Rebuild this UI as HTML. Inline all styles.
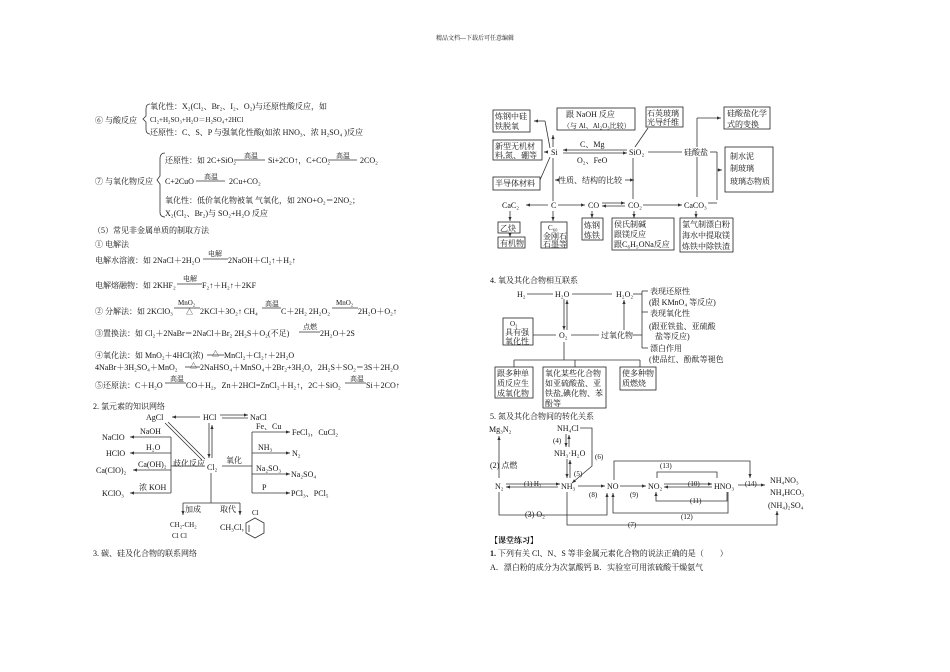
<!DOCTYPE html>
<html><head><meta charset="utf-8"><style>
html,body{margin:0;padding:0;background:#fff}
svg{display:block}
text{font-family:"Liberation Serif","Noto Serif CJK SC",serif;font-size:8px;fill:#111}
.s{font-size:7px}
.l{stroke:#333;stroke-width:0.8;fill:none}
.b{stroke:#222;stroke-width:0.8;fill:none}
</style></head><body>
<svg width="950" height="672" viewBox="0 0 950 672" xmlns="http://www.w3.org/2000/svg">
<defs><marker id="a" markerWidth="6" markerHeight="6" refX="5" refY="3" orient="auto"><path d="M0,1 L5,3 L0,5 z" fill="#333"/></marker></defs>
<text x="475" y="40" text-anchor="middle" style="font-size:6px">精品文档---下载后可任意编辑</text>

<!-- left column -->
<text x="95" y="123">⑥ 与酸反应</text>
<path class="l" d="M150,104 q-4,0 -4,5 v7 l-3,3 l3,3 v7 q0,5 4,5"/>
<text x="150" y="109">氧化性：X₂(Cl₂、Br₂、I₂、O₂)与还原性酸反应，如</text>
<text x="150" y="122" class="s">Cl₂+H₂SO₃+H₂O＝H₂SO₄+2HCl</text>
<text x="150" y="135">还原性：C、S、P 与强氧化性酸(如浓 HNO₃、浓 H₂SO₄ )反应</text>

<text x="95" y="184">⑦ 与氧化物反应</text>
<path class="l" d="M165,153 q-5,0 -5,6 v17 l-3,4 l3,4 v28 q0,5 5,5"/>
<text x="165" y="163">还原性：如 2C+SiO₂</text><text x="244" y="158" class="s">高温</text><line class="l" x1="234" y1="160" x2="265" y2="160"/><text x="268" y="163">Si+2CO↑，C+CO₂</text><text x="336" y="158" class="s">高温</text><line class="l" x1="328" y1="160" x2="357" y2="160"/><text x="360" y="163">2CO₂</text>
<text x="165" y="184">C+2CuO</text><text x="204" y="179" class="s">高温</text><line class="l" x1="196" y1="181" x2="225" y2="181"/><text x="229" y="184">2Cu+CO₂</text>
<text x="165" y="203">氧化性：低价氧化物被氧 气氧化，如 2NO+O₂＝2NO₂；</text>
<text x="165" y="216">X₂(Cl₂、Br₂)与 SO₂+H₂O 反应</text>

<text x="93" y="233">（5）常见非金属单质的制取方法</text>
<text x="95" y="247">① 电解法</text>
<text x="95" y="263">电解水溶液：如 2NaCl＋2H₂O</text><text x="208" y="256" class="s">电解</text><line class="l" x1="203" y1="259" x2="228" y2="259"/><text x="228" y="263">2NaOH＋Cl₂↑＋H₂↑</text>
<text x="95" y="288">电解熔融物：如 2KHF₂</text><text x="183" y="281" class="s">电解</text><line class="l" x1="177" y1="284" x2="202" y2="284"/><text x="202" y="288">F₂↑＋H₂↑＋2KF</text>
<text x="95" y="314">② 分解法：如 2KClO₃</text><text x="178" y="305" class="s">MnO₂</text><line class="l" x1="174" y1="308" x2="200" y2="308"/><text x="186" y="314" class="s">△</text><text x="200" y="314">2KCl＋3O₂↑ CH₄</text><text x="265" y="306" class="s">高温</text><line class="l" x1="262" y1="308" x2="281" y2="308"/><text x="281" y="314">C＋2H₂ 2H₂O₂</text><text x="336" y="305" class="s">MnO₂</text><line class="l" x1="332" y1="308" x2="358" y2="308"/><text x="358" y="314">2H₂O＋O₂↑</text>
<text x="95" y="336">③置换法：如 Cl₂＋2NaBr＝2NaCl＋Br₂ 2H₂S＋O₂(不足)</text><text x="303" y="329" class="s">点燃</text><line class="l" x1="299" y1="332" x2="320" y2="332"/><text x="320" y="336">2H₂O＋2S</text>
<text x="95" y="358">④氧化法：如 MnO₂＋4HCl(浓)</text><text x="212" y="356" class="s">△</text><line class="l" x1="207" y1="355" x2="224" y2="355"/><text x="224" y="358">MnCl₂＋Cl₂↑＋2H₂O</text>
<text x="95" y="370">4NaBr＋3H₂SO₄＋MnO₂</text><text x="190" y="368" class="s">△</text><line class="l" x1="185" y1="367" x2="200" y2="367"/><text x="200" y="370">2NaHSO₄＋MnSO₄＋2Br₂+3H₂O，2H₂S＋SO₂＝3S＋2H₂O</text>
<text x="95" y="388">⑤还原法：C＋H₂O</text><text x="170" y="381" class="s">高温</text><line class="l" x1="165" y1="383" x2="186" y2="383"/><text x="186" y="388">CO＋H₂，Zn＋2HCl=ZnCl₂＋H₂↑，2C＋SiO₂</text><text x="350" y="381" class="s">高温</text><line class="l" x1="345" y1="383" x2="366" y2="383"/><text x="366" y="388">Si＋2CO↑</text>

<text x="93" y="409">2. 氯元素的知识网络</text>
<text x="146" y="420">AgCl</text><text x="203" y="420">HCl</text><text x="250" y="420">NaCl</text>
<line class="l" x1="200" y1="417" x2="172" y2="417" marker-end="url(#a)"/>
<line class="l" x1="220" y1="415" x2="248" y2="415" marker-end="url(#a)"/><line class="l" x1="222" y1="418" x2="248" y2="418"/>
<line class="l" x1="209" y1="423" x2="209" y2="458" marker-end="url(#a)"/><line class="l" x1="212" y1="458" x2="212" y2="425" marker-end="url(#a)"/>
<line class="l" x1="165" y1="423" x2="202" y2="460"/><line class="l" x1="168" y1="422" x2="205" y2="459"/>
<text x="207" y="470">Cl₂</text>
<text x="173" y="466">歧化反应</text>
<line class="l" x1="171" y1="437" x2="171" y2="493"/>
<line class="l" x1="171" y1="437" x2="130" y2="437" marker-end="url(#a)"/><text x="140" y="434">NaOH</text><text x="102" y="440">NaClO</text>
<line class="l" x1="171" y1="453" x2="130" y2="453" marker-end="url(#a)"/><text x="146" y="450">H₂O</text><text x="106" y="456">HClO</text>
<line class="l" x1="171" y1="470" x2="133" y2="470" marker-end="url(#a)"/><text x="138" y="467">Ca(OH)₂</text><text x="96" y="473">Ca(ClO)₂</text>
<line class="l" x1="171" y1="493" x2="130" y2="493" marker-end="url(#a)"/><text x="139" y="490">浓 KOH</text><text x="102" y="496">KClO₃</text>
<line class="l" x1="171" y1="466" x2="205" y2="466"/>
<line class="l" x1="222" y1="466" x2="252" y2="466"/><text x="226" y="463">氧化</text>
<line class="l" x1="252" y1="432" x2="252" y2="493"/>
<line class="l" x1="252" y1="432" x2="290" y2="432" marker-end="url(#a)"/><text x="256" y="429">Fe、Cu</text><text x="292" y="435">FeCl₃，CuCl₂</text>
<line class="l" x1="252" y1="453" x2="290" y2="453" marker-end="url(#a)"/><text x="258" y="450">NH₃</text><text x="292" y="456">N₂</text>
<line class="l" x1="252" y1="474" x2="290" y2="474" marker-end="url(#a)"/><text x="256" y="471">Na₂SO₃</text><text x="291" y="477">Na₂SO₄</text>
<line class="l" x1="252" y1="493" x2="290" y2="493" marker-end="url(#a)"/><text x="262" y="490">P</text><text x="291" y="496">PCl₃、PCl₅</text>
<line class="l" x1="211" y1="473" x2="211" y2="503"/>
<line class="l" x1="183" y1="503" x2="240" y2="503"/>
<line class="l" x1="183" y1="503" x2="183" y2="515" marker-end="url(#a)"/><line class="l" x1="240" y1="503" x2="240" y2="515" marker-end="url(#a)"/>
<text x="185" y="512">加成</text><text x="220" y="512">取代</text>
<text x="170" y="527" class="s">CH₂-CH₂</text><text x="172" y="538" class="s">Cl   Cl</text>
<text x="220" y="530">CH₃Cl，</text>
<text x="252" y="515" class="s">Cl</text>
<polygon class="l" points="255,518 264,523 264,533 255,538 246,533 246,523"/>
<line class="l" x1="249" y1="525" x2="249" y2="532"/>
<text x="93" y="556">3. 碳、硅及化合物的联系网络</text>

<!-- carbon/silicon -->
<rect class="b" x="493" y="110" width="37" height="22"/><text x="495" y="119">炼钢中硅</text><text x="495" y="129">铁脱氧</text>
<rect class="b" x="557" y="108" width="78" height="22"/><text x="566" y="117">跟 NaOH 反应</text><text x="563" y="128" class="s">（与 Al、Al₂O₃比较）</text>
<rect class="b" x="646" y="107" width="37" height="20"/><text x="647" y="116">石英玻璃</text><text x="647" y="125">光导纤维</text>
<rect class="b" x="724" y="107" width="46" height="22"/><text x="727" y="116">硅酸盐化学</text><text x="727" y="127">式的变换</text>
<rect class="b" x="493" y="140" width="49" height="20"/><text x="495" y="149">新型无机材</text><text x="495" y="158">料,氮、硼等</text>
<rect class="b" x="493" y="177" width="47" height="13"/><text x="495" y="186">半导体材料</text>
<text x="551" y="155">Si</text><text x="629" y="155">SiO₂</text><text x="684" y="155">硅酸盐</text>
<rect class="b" x="725" y="147" width="48" height="45"/><text x="730" y="159">制水泥</text><text x="730" y="171">制玻璃</text><text x="730" y="184">玻璃态物质</text>
<text x="558" y="183">性质、结构的比较</text>
<line class="l" x1="559" y1="180" x2="555" y2="180" marker-end="url(#a)"/><line class="l" x1="625" y1="180" x2="634" y2="180" marker-end="url(#a)"/>
<line class="l" x1="627" y1="150" x2="563" y2="150" marker-end="url(#a)"/><line class="l" x1="563" y1="153" x2="627" y2="153" marker-end="url(#a)"/>
<text x="580" y="147">C、Mg</text><text x="577" y="163">O₂、FeO</text>
<line class="l" x1="553" y1="147" x2="553" y2="135" marker-end="url(#a)"/>
<line class="l" x1="550" y1="148" x2="545" y2="121"/><line class="l" x1="545" y1="121" x2="534" y2="121" marker-end="url(#a)"/>
<line class="l" x1="548" y1="152" x2="544" y2="152" marker-end="url(#a)"/>
<line class="l" x1="550" y1="157" x2="540" y2="180"/>
<line class="l" x1="553" y1="158" x2="553" y2="201"/>
<line class="l" x1="635" y1="147" x2="648" y2="128"/>
<line class="l" x1="633" y1="158" x2="633" y2="199"/>
<line class="l" x1="648" y1="152" x2="682" y2="152"/>
<line class="l" x1="697" y1="147" x2="697" y2="118"/><line class="l" x1="697" y1="118" x2="721" y2="118" marker-end="url(#a)"/>
<line class="l" x1="710" y1="152" x2="717" y2="152"/><line class="l" x1="717" y1="152" x2="717" y2="200"/><line class="l" x1="717" y1="170" x2="722" y2="170" marker-end="url(#a)"/>
<line class="l" x1="697" y1="157" x2="697" y2="197"/>
<line class="l" x1="708" y1="203" x2="717" y2="203"/>
<text x="502" y="208">CaC₂</text><text x="551" y="208">C</text><text x="588" y="208">CO</text><text x="628" y="208">CO₂</text><text x="684" y="208">CaCO₃</text>
<line class="l" x1="548" y1="205" x2="526" y2="205" marker-end="url(#a)"/>
<line class="l" x1="558" y1="205" x2="585" y2="205" marker-end="url(#a)"/>
<line class="l" x1="602" y1="203" x2="625" y2="203" marker-end="url(#a)"/><line class="l" x1="625" y1="206" x2="602" y2="206" marker-end="url(#a)"/>
<line class="l" x1="643" y1="205" x2="682" y2="205" marker-end="url(#a)"/>
<line class="l" x1="510" y1="211" x2="510" y2="221" marker-end="url(#a)"/><line class="l" x1="510" y1="233" x2="510" y2="237" marker-end="url(#a)"/>
<line class="l" x1="553" y1="211" x2="553" y2="221" marker-end="url(#a)"/>
<line class="l" x1="592" y1="211" x2="592" y2="218" marker-end="url(#a)"/>
<line class="l" x1="634" y1="211" x2="634" y2="218" marker-end="url(#a)"/>
<line class="l" x1="696" y1="211" x2="696" y2="218" marker-end="url(#a)"/>
<rect class="b" x="498" y="222" width="22" height="11"/><text x="500" y="231">乙炔</text>
<rect class="b" x="498" y="237" width="27" height="11"/><text x="500" y="246">有机物</text>
<rect class="b" x="541" y="222" width="26" height="26"/><text x="548" y="230" class="s">C₆₀</text><text x="543" y="239">金刚石</text><text x="543" y="247">石墨等</text>
<rect class="b" x="582" y="218" width="21" height="22"/><text x="584" y="228">炼钢</text><text x="584" y="238">炼铁</text>
<rect class="b" x="612" y="218" width="62" height="32"/><text x="614" y="227">侯氏制碱</text><text x="614" y="237">跟镁反应</text><text x="614" y="247">跟C₆H₅ONa反应</text>
<rect class="b" x="680" y="218" width="53" height="34"/><text x="682" y="227">氯气制漂白粉</text><text x="682" y="238">海水中提取镁</text><text x="682" y="249">炼铁中除铁渣</text>

<!-- oxygen -->
<text x="490" y="283">4. 氧及其化合物相互联系</text>
<text x="517" y="297">H₂</text><text x="555" y="297">H₂O</text><text x="616" y="297">H₂O₂</text>
<line class="l" x1="527" y1="294" x2="553" y2="294"/><line class="l" x1="572" y1="294" x2="612" y2="294"/>
<line class="l" x1="564" y1="299" x2="564" y2="330" marker-end="url(#a)"/><line class="l" x1="567" y1="330" x2="567" y2="300" marker-end="url(#a)"/>
<rect class="b" x="503" y="318" width="30" height="27"/><text x="510" y="326" class="s">O₃</text><text x="505" y="335">具有强</text><text x="505" y="344">氧化性</text>
<text x="559" y="338">O₂</text><text x="601" y="338">过氧化物</text>
<line class="l" x1="533" y1="335" x2="556" y2="335"/><line class="l" x1="571" y1="335" x2="599" y2="335"/>
<line class="l" x1="624" y1="330" x2="624" y2="300" marker-end="url(#a)"/>
<line class="l" x1="633" y1="335" x2="642" y2="335"/>
<line class="l" x1="633" y1="294" x2="642" y2="294"/>
<line class="l" x1="642" y1="291" x2="642" y2="348"/><line class="l" x1="642" y1="312" x2="648" y2="312"/>
<line class="l" x1="642" y1="291" x2="648" y2="291"/><line class="l" x1="642" y1="348" x2="648" y2="348"/>
<text x="650" y="294">表现还原性</text><text x="649" y="305">(跟 KMnO₄ 等反应)</text><text x="650" y="316">表现氧化性</text>
<text x="649" y="329">(跟亚铁盐、亚硫酸</text><text x="655" y="339">盐等反应)</text><text x="650" y="351">漂白作用</text><text x="649" y="362">(使品红、酚酞等褪色</text>
<line class="l" x1="564" y1="342" x2="564" y2="360"/><line class="l" x1="514" y1="360" x2="640" y2="360"/>
<line class="l" x1="514" y1="360" x2="514" y2="367"/><line class="l" x1="575" y1="360" x2="575" y2="367"/><line class="l" x1="640" y1="360" x2="640" y2="367"/>
<rect class="b" x="495" y="367" width="38" height="31"/><text x="497" y="376">跟多种单</text><text x="497" y="386">质反应生</text><text x="497" y="396">成氧化物</text>
<rect class="b" x="543" y="367" width="63" height="41"/><text x="545" y="376">氧化某些化合物</text><text x="545" y="386">如亚硫酸盐、亚</text><text x="545" y="396">铁盐,碘化物、苯</text><text x="545" y="406">酚等</text>
<rect class="b" x="620" y="367" width="36" height="23"/><text x="622" y="376">使多种物</text><text x="622" y="386">质燃烧</text>

<!-- nitrogen -->
<text x="490" y="419">5. 氮及其化合物间的转化关系</text>
<text x="489" y="432">Mg₃N₂</text><text x="557" y="431">NH₄Cl</text><text x="553" y="443" class="s">(4)</text>
<text x="554" y="456">NH₃·H₂O</text><text x="490" y="468">(2) 点燃</text><text x="574" y="476" class="s">(5)</text><text x="595" y="459" class="s">(6)</text>
<text x="660" y="468" class="s">(13)</text>
<text x="495" y="489">N₂</text><text x="524" y="486" class="s">(1) H₂</text><text x="561" y="489">NH₃</text><text x="589" y="497" class="s">(8)</text>
<text x="607" y="489">NO</text><text x="630" y="497" class="s">(9)</text><text x="648" y="489">NO₂</text><text x="688" y="486" class="s">(10)</text>
<text x="714" y="489">HNO₃</text><text x="745" y="486" class="s">(14)</text>
<text x="770" y="483">NH₄NO₃</text><text x="770" y="495">NH₄HCO₃</text><text x="768" y="508">(NH₄)₂SO₄</text>
<text x="690" y="503" class="s">(11)</text><text x="681" y="519" class="s">(12)</text><text x="525" y="517">(3) O₂</text><text x="628" y="527" class="s">(7)</text>
<line class="l" x1="499" y1="478" x2="499" y2="436" marker-end="url(#a)"/>
<line class="l" x1="506" y1="484" x2="560" y2="484" marker-end="url(#a)"/><line class="l" x1="558" y1="487" x2="506" y2="487" marker-end="url(#a)"/>
<line class="l" x1="566" y1="434" x2="566" y2="447" marker-end="url(#a)"/><line class="l" x1="569" y1="447" x2="569" y2="435" marker-end="url(#a)"/>
<line class="l" x1="567" y1="459" x2="567" y2="478" marker-end="url(#a)"/><line class="l" x1="570" y1="478" x2="570" y2="460" marker-end="url(#a)"/>
<path class="l" d="M580,428 h12 v38 l-20,17" marker-end="url(#a)"/>
<line class="l" x1="578" y1="486" x2="605" y2="486" marker-end="url(#a)"/>
<line class="l" x1="620" y1="486" x2="646" y2="486" marker-end="url(#a)"/>
<line class="l" x1="664" y1="484" x2="712" y2="484" marker-end="url(#a)"/><line class="l" x1="712" y1="487" x2="664" y2="487" marker-end="url(#a)"/>
<line class="l" x1="738" y1="485" x2="765" y2="485" marker-end="url(#a)"/>
<path class="l" d="M614,480 v-19 h136 v17" marker-end="url(#a)"/>
<path class="l" d="M657,478 v-6 h60 v6"/>
<path class="l" d="M727,492 v9 h-71 v-9" marker-end="url(#a)"/>
<path class="l" d="M728,492 v21 h-115 v-20" marker-end="url(#a)"/>
<path class="l" d="M499,492 v23 h108 v-22" marker-end="url(#a)"/>
<path class="l" d="M567,492 v33 h210 v-14" marker-end="url(#a)"/>
<text x="490" y="543" style="font-weight:bold">【课堂练习】</text>
<text x="490" y="556"><tspan style="font-weight:bold">1.</tspan> 下列有关 Cl、N、S 等非金属元素化合物的说法正确的是（　　）</text>
<text x="490" y="570">A．漂白粉的成分为次氯酸钙 B．实验室可用浓硫酸干燥氨气</text>
</svg>
</body></html>
